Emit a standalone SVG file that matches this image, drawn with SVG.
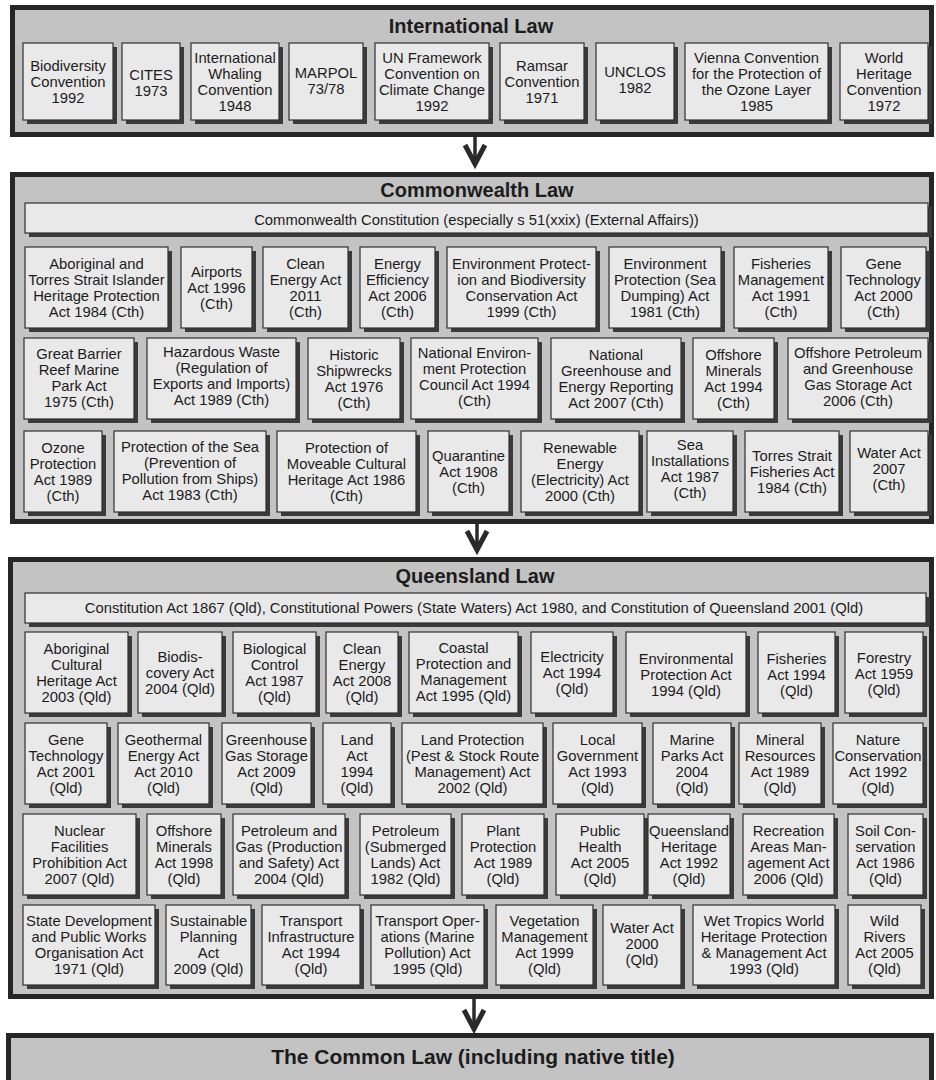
<svg xmlns="http://www.w3.org/2000/svg" width="936" height="1080" viewBox="0 0 936 1080">
<style>
.bg{fill:#ffffff}
.panel{fill:#c3c3c3;stroke:#262626;stroke-width:5}
.box{fill:#e9e9e9;stroke:#303030;stroke-width:1.2}
.sh{fill:#3a3a3a}
.t{font-family:"Liberation Sans",Arial,sans-serif;font-size:14.8px;fill:#1c1c1c;text-anchor:middle}
.h{font-family:"Liberation Sans",Arial,sans-serif;font-size:20px;font-weight:bold;fill:#1c1c1c;text-anchor:middle}
.ar{stroke:#2a2a2a;stroke-width:3.5;fill:none}
</style>
<defs>
<marker id="head" markerUnits="userSpaceOnUse" orient="auto" refX="0" refY="0" markerWidth="30" markerHeight="30" overflow="visible">
<path d="M-19,-10 L0,0 L-19,10" fill="none" stroke="#2a2a2a" stroke-width="5" stroke-linejoin="miter"/>
</marker>
</defs>
<rect class="bg" x="0" y="0" width="936" height="1080"/>

<!-- Panels -->
<g id="panel-international">
<rect class="panel" x="12.5" y="7.5" width="919" height="127"/>
<text class="h" x="471" y="33">International Law</text>
</g>
<g id="panel-commonwealth">
<rect class="panel" x="12.5" y="174.5" width="919" height="347"/>
<text class="h" x="477" y="197">Commonwealth Law</text>
</g>
<g id="panel-queensland">
<rect class="panel" x="10.5" y="559.5" width="921" height="437"/>
<text class="h" x="475" y="583">Queensland Law</text>
</g>
<g id="panel-commonlaw">
<rect class="panel" x="8.5" y="1035.5" width="923" height="60"/>
<text class="h" x="473" y="1064" style="font-size:21px">The Common Law (including native title)</text>
</g>

<!-- Connectors -->
<g id="connectors">
<line class="ar" x1="475" y1="137" x2="475" y2="164" marker-end="url(#head)"/>
<line class="ar" x1="477" y1="524" x2="477" y2="550" marker-end="url(#head)"/>
<line class="ar" x1="474" y1="999" x2="474" y2="1029" marker-end="url(#head)"/>
</g>

<!-- International -->
<g id="i1"><rect class="sh" x="27" y="47" width="90" height="77"/><rect class="box" x="23" y="43" width="90" height="77"/><text class="t" y="71"><tspan x="68">Biodiversity</tspan><tspan x="68" dy="16">Convention</tspan><tspan x="68" dy="16">1992</tspan></text></g>
<g id="i2"><rect class="sh" x="126" y="47" width="58" height="77"/><rect class="box" x="122" y="43" width="58" height="77"/><text class="t" y="80"><tspan x="151">CITES</tspan><tspan x="151" dy="16">1973</tspan></text></g>
<g id="i3"><rect class="sh" x="195" y="47" width="88" height="77"/><rect class="box" x="191" y="43" width="88" height="77"/><text class="t" y="63"><tspan x="235">International</tspan><tspan x="235" dy="16">Whaling</tspan><tspan x="235" dy="16">Convention</tspan><tspan x="235" dy="16">1948</tspan></text></g>
<g id="i4"><rect class="sh" x="293" y="47" width="74" height="77"/><rect class="box" x="289" y="43" width="74" height="77"/><text class="t" y="78"><tspan x="326">MARPOL</tspan><tspan x="326" dy="16">73/78</tspan></text></g>
<g id="i5"><rect class="sh" x="379" y="47" width="114" height="77"/><rect class="box" x="375" y="43" width="114" height="77"/><text class="t" y="63"><tspan x="432">UN Framework</tspan><tspan x="432" dy="16">Convention on</tspan><tspan x="432" dy="16">Climate Change</tspan><tspan x="432" dy="16">1992</tspan></text></g>
<g id="i6"><rect class="sh" x="504" y="47" width="84" height="77"/><rect class="box" x="500" y="43" width="84" height="77"/><text class="t" y="71"><tspan x="542">Ramsar</tspan><tspan x="542" dy="16">Convention</tspan><tspan x="542" dy="16">1971</tspan></text></g>
<g id="i7"><rect class="sh" x="600" y="47" width="78" height="77"/><rect class="box" x="596" y="43" width="78" height="77"/><text class="t" y="77"><tspan x="635">UNCLOS</tspan><tspan x="635" dy="16">1982</tspan></text></g>
<g id="i8"><rect class="sh" x="689" y="47" width="143" height="77"/><rect class="box" x="685" y="43" width="143" height="77"/><text class="t" y="63"><tspan x="756.5">Vienna Convention</tspan><tspan x="756.5" dy="16">for the Protection of</tspan><tspan x="756.5" dy="16">the Ozone Layer</tspan><tspan x="756.5" dy="16">1985</tspan></text></g>
<g id="i9"><rect class="sh" x="844" y="47" width="88" height="77"/><rect class="box" x="840" y="43" width="88" height="77"/><text class="t" y="63"><tspan x="884">World</tspan><tspan x="884" dy="16">Heritage</tspan><tspan x="884" dy="16">Convention</tspan><tspan x="884" dy="16">1972</tspan></text></g>

<!-- Commonwealth -->
<g id="c0"><rect class="sh" x="29" y="207" width="903" height="30"/><rect class="box" x="25" y="203" width="903" height="30"/><text class="t" x="476.5" y="225">Commonwealth Constitution (especially s 51(xxix) (External Affairs))</text></g>

<g id="c1"><rect class="sh" x="29" y="251" width="143" height="81"/><rect class="box" x="25" y="247" width="143" height="81"/><text class="t" y="269"><tspan x="96.5">Aboriginal and</tspan><tspan x="96.5" dy="16">Torres Strait Islander</tspan><tspan x="96.5" dy="16">Heritage Protection</tspan><tspan x="96.5" dy="16">Act 1984 (Cth)</tspan></text></g>
<g id="c2"><rect class="sh" x="185" y="251" width="71" height="81"/><rect class="box" x="181" y="247" width="71" height="81"/><text class="t" y="277"><tspan x="216.5">Airports</tspan><tspan x="216.5" dy="16">Act 1996</tspan><tspan x="216.5" dy="16">(Cth)</tspan></text></g>
<g id="c3"><rect class="sh" x="267" y="251" width="85" height="81"/><rect class="box" x="263" y="247" width="85" height="81"/><text class="t" y="269"><tspan x="305.5">Clean</tspan><tspan x="305.5" dy="16">Energy Act</tspan><tspan x="305.5" dy="16">2011</tspan><tspan x="305.5" dy="16">(Cth)</tspan></text></g>
<g id="c4"><rect class="sh" x="364" y="251" width="75" height="81"/><rect class="box" x="360" y="247" width="75" height="81"/><text class="t" y="269"><tspan x="397.5">Energy</tspan><tspan x="397.5" dy="16">Efficiency</tspan><tspan x="397.5" dy="16">Act 2006</tspan><tspan x="397.5" dy="16">(Cth)</tspan></text></g>
<g id="c5"><rect class="sh" x="451" y="251" width="149" height="81"/><rect class="box" x="447" y="247" width="149" height="81"/><text class="t" y="269"><tspan x="521.5">Environment Protect-</tspan><tspan x="521.5" dy="16">ion and Biodiversity</tspan><tspan x="521.5" dy="16">Conservation Act</tspan><tspan x="521.5" dy="16">1999 (Cth)</tspan></text></g>
<g id="c6"><rect class="sh" x="613" y="251" width="112" height="81"/><rect class="box" x="609" y="247" width="112" height="81"/><text class="t" y="269"><tspan x="665">Environment</tspan><tspan x="665" dy="16">Protection (Sea</tspan><tspan x="665" dy="16">Dumping) Act</tspan><tspan x="665" dy="16">1981 (Cth)</tspan></text></g>
<g id="c7"><rect class="sh" x="738" y="251" width="94" height="81"/><rect class="box" x="734" y="247" width="94" height="81"/><text class="t" y="269"><tspan x="781">Fisheries</tspan><tspan x="781" dy="16">Management</tspan><tspan x="781" dy="16">Act 1991</tspan><tspan x="781" dy="16">(Cth)</tspan></text></g>
<g id="c8"><rect class="sh" x="845" y="251" width="85" height="81"/><rect class="box" x="841" y="247" width="85" height="81"/><text class="t" y="269"><tspan x="883.5">Gene</tspan><tspan x="883.5" dy="16">Technology</tspan><tspan x="883.5" dy="16">Act 2000</tspan><tspan x="883.5" dy="16">(Cth)</tspan></text></g>

<g id="c9"><rect class="sh" x="28" y="342" width="110" height="81"/><rect class="box" x="24" y="338" width="110" height="81"/><text class="t" y="359"><tspan x="79">Great Barrier</tspan><tspan x="79" dy="16">Reef Marine</tspan><tspan x="79" dy="16">Park Act</tspan><tspan x="79" dy="16">1975 (Cth)</tspan></text></g>
<g id="c10"><rect class="sh" x="151" y="342" width="149" height="81"/><rect class="box" x="147" y="338" width="149" height="81"/><text class="t" y="357"><tspan x="221.5">Hazardous Waste</tspan><tspan x="221.5" dy="16">(Regulation of</tspan><tspan x="221.5" dy="16">Exports and Imports)</tspan><tspan x="221.5" dy="16">Act 1989 (Cth)</tspan></text></g>
<g id="c11"><rect class="sh" x="312" y="342" width="92" height="81"/><rect class="box" x="308" y="338" width="92" height="81"/><text class="t" y="360"><tspan x="354">Historic</tspan><tspan x="354" dy="16">Shipwrecks</tspan><tspan x="354" dy="16">Act 1976</tspan><tspan x="354" dy="16">(Cth)</tspan></text></g>
<g id="c12"><rect class="sh" x="415" y="342" width="127" height="81"/><rect class="box" x="411" y="338" width="127" height="81"/><text class="t" y="358"><tspan x="474.5">National Environ-</tspan><tspan x="474.5" dy="16">ment Protection</tspan><tspan x="474.5" dy="16">Council Act 1994</tspan><tspan x="474.5" dy="16">(Cth)</tspan></text></g>
<g id="c13"><rect class="sh" x="555" y="342" width="130" height="81"/><rect class="box" x="551" y="338" width="130" height="81"/><text class="t" y="360"><tspan x="616">National</tspan><tspan x="616" dy="16">Greenhouse and</tspan><tspan x="616" dy="16">Energy Reporting</tspan><tspan x="616" dy="16">Act 2007 (Cth)</tspan></text></g>
<g id="c14"><rect class="sh" x="697" y="342" width="81" height="81"/><rect class="box" x="693" y="338" width="81" height="81"/><text class="t" y="360"><tspan x="733.5">Offshore</tspan><tspan x="733.5" dy="16">Minerals</tspan><tspan x="733.5" dy="16">Act 1994</tspan><tspan x="733.5" dy="16">(Cth)</tspan></text></g>
<g id="c15"><rect class="sh" x="792" y="342" width="140" height="81"/><rect class="box" x="788" y="338" width="140" height="81"/><text class="t" y="358"><tspan x="858">Offshore Petroleum</tspan><tspan x="858" dy="16">and Greenhouse</tspan><tspan x="858" dy="16">Gas Storage Act</tspan><tspan x="858" dy="16">2006 (Cth)</tspan></text></g>

<g id="c16"><rect class="sh" x="28" y="435" width="78" height="81"/><rect class="box" x="24" y="431" width="78" height="81"/><text class="t" y="453"><tspan x="63">Ozone</tspan><tspan x="63" dy="16">Protection</tspan><tspan x="63" dy="16">Act 1989</tspan><tspan x="63" dy="16">(Cth)</tspan></text></g>
<g id="c17"><rect class="sh" x="118" y="435" width="152" height="81"/><rect class="box" x="114" y="431" width="152" height="81"/><text class="t" y="452"><tspan x="190">Protection of the Sea</tspan><tspan x="190" dy="16">(Prevention of</tspan><tspan x="190" dy="16">Pollution from Ships)</tspan><tspan x="190" dy="16">Act 1983 (Cth)</tspan></text></g>
<g id="c18"><rect class="sh" x="281" y="435" width="139" height="81"/><rect class="box" x="277" y="431" width="139" height="81"/><text class="t" y="453"><tspan x="346.5">Protection of</tspan><tspan x="346.5" dy="16">Moveable Cultural</tspan><tspan x="346.5" dy="16">Heritage Act 1986</tspan><tspan x="346.5" dy="16">(Cth)</tspan></text></g>
<g id="c19"><rect class="sh" x="432" y="435" width="81" height="81"/><rect class="box" x="428" y="431" width="81" height="81"/><text class="t" y="461"><tspan x="468.5">Quarantine</tspan><tspan x="468.5" dy="16">Act 1908</tspan><tspan x="468.5" dy="16">(Cth)</tspan></text></g>
<g id="c20"><rect class="sh" x="525" y="435" width="118" height="81"/><rect class="box" x="521" y="431" width="118" height="81"/><text class="t" y="453"><tspan x="580">Renewable</tspan><tspan x="580" dy="16">Energy</tspan><tspan x="580" dy="16">(Electricity) Act</tspan><tspan x="580" dy="16">2000 (Cth)</tspan></text></g>
<g id="c21"><rect class="sh" x="651" y="435" width="86" height="81"/><rect class="box" x="647" y="431" width="86" height="81"/><text class="t" y="450"><tspan x="690">Sea</tspan><tspan x="690" dy="16">Installations</tspan><tspan x="690" dy="16">Act 1987</tspan><tspan x="690" dy="16">(Cth)</tspan></text></g>
<g id="c22"><rect class="sh" x="749" y="435" width="94" height="81"/><rect class="box" x="745" y="431" width="94" height="81"/><text class="t" y="461"><tspan x="792">Torres Strait</tspan><tspan x="792" dy="16">Fisheries Act</tspan><tspan x="792" dy="16">1984 (Cth)</tspan></text></g>
<g id="c23"><rect class="sh" x="854" y="435" width="78" height="81"/><rect class="box" x="850" y="431" width="78" height="81"/><text class="t" y="458"><tspan x="889">Water Act</tspan><tspan x="889" dy="16">2007</tspan><tspan x="889" dy="16">(Cth)</tspan></text></g>

<!-- Queensland -->
<g id="q0"><rect class="sh" x="29" y="597" width="901" height="30"/><rect class="box" x="25" y="593" width="901" height="30"/><text class="t" x="474" y="613">Constitution Act 1867 (Qld), Constitutional Powers (State Waters) Act 1980, and Constitution of Queensland 2001 (Qld)</text></g>

<g id="q1"><rect class="sh" x="29" y="636" width="103" height="81"/><rect class="box" x="25" y="632" width="103" height="81"/><text class="t" y="654"><tspan x="76.5">Aboriginal</tspan><tspan x="76.5" dy="16">Cultural</tspan><tspan x="76.5" dy="16">Heritage Act</tspan><tspan x="76.5" dy="16">2003 (Qld)</tspan></text></g>
<g id="q2"><rect class="sh" x="142" y="636" width="84" height="81"/><rect class="box" x="138" y="632" width="84" height="81"/><text class="t" y="662"><tspan x="180">Biodis-</tspan><tspan x="180" dy="16">covery Act</tspan><tspan x="180" dy="16">2004 (Qld)</tspan></text></g>
<g id="q3"><rect class="sh" x="237" y="636" width="83" height="81"/><rect class="box" x="233" y="632" width="83" height="81"/><text class="t" y="654"><tspan x="274.5">Biological</tspan><tspan x="274.5" dy="16">Control</tspan><tspan x="274.5" dy="16">Act 1987</tspan><tspan x="274.5" dy="16">(Qld)</tspan></text></g>
<g id="q4"><rect class="sh" x="330" y="636" width="72" height="81"/><rect class="box" x="326" y="632" width="72" height="81"/><text class="t" y="654"><tspan x="362">Clean</tspan><tspan x="362" dy="16">Energy</tspan><tspan x="362" dy="16">Act 2008</tspan><tspan x="362" dy="16">(Qld)</tspan></text></g>
<g id="q5"><rect class="sh" x="413" y="636" width="109" height="81"/><rect class="box" x="409" y="632" width="109" height="81"/><text class="t" y="653"><tspan x="463.5">Coastal</tspan><tspan x="463.5" dy="16">Protection and</tspan><tspan x="463.5" dy="16">Management</tspan><tspan x="463.5" dy="16">Act 1995 (Qld)</tspan></text></g>
<g id="q6"><rect class="sh" x="535" y="636" width="82" height="81"/><rect class="box" x="531" y="632" width="82" height="81"/><text class="t" y="662"><tspan x="572">Electricity</tspan><tspan x="572" dy="16">Act 1994</tspan><tspan x="572" dy="16">(Qld)</tspan></text></g>
<g id="q7"><rect class="sh" x="630" y="636" width="120" height="81"/><rect class="box" x="626" y="632" width="120" height="81"/><text class="t" y="664"><tspan x="686">Environmental</tspan><tspan x="686" dy="16">Protection Act</tspan><tspan x="686" dy="16">1994 (Qld)</tspan></text></g>
<g id="q8"><rect class="sh" x="762" y="636" width="77" height="81"/><rect class="box" x="758" y="632" width="77" height="81"/><text class="t" y="664"><tspan x="796.5">Fisheries</tspan><tspan x="796.5" dy="16">Act 1994</tspan><tspan x="796.5" dy="16">(Qld)</tspan></text></g>
<g id="q9"><rect class="sh" x="849" y="636" width="78" height="81"/><rect class="box" x="845" y="632" width="78" height="81"/><text class="t" y="663"><tspan x="884">Forestry</tspan><tspan x="884" dy="16">Act 1959</tspan><tspan x="884" dy="16">(Qld)</tspan></text></g>

<g id="q10"><rect class="sh" x="29" y="727" width="82" height="81"/><rect class="box" x="25" y="723" width="82" height="81"/><text class="t" y="745"><tspan x="66">Gene</tspan><tspan x="66" dy="16">Technology</tspan><tspan x="66" dy="16">Act 2001</tspan><tspan x="66" dy="16">(Qld)</tspan></text></g>
<g id="q11"><rect class="sh" x="122" y="727" width="91" height="81"/><rect class="box" x="118" y="723" width="91" height="81"/><text class="t" y="745"><tspan x="163.5">Geothermal</tspan><tspan x="163.5" dy="16">Energy Act</tspan><tspan x="163.5" dy="16">Act 2010</tspan><tspan x="163.5" dy="16">(Qld)</tspan></text></g>
<g id="q12"><rect class="sh" x="226" y="727" width="89" height="81"/><rect class="box" x="222" y="723" width="89" height="81"/><text class="t" y="745"><tspan x="266.5">Greenhouse</tspan><tspan x="266.5" dy="16">Gas Storage</tspan><tspan x="266.5" dy="16">Act 2009</tspan><tspan x="266.5" dy="16">(Qld)</tspan></text></g>
<g id="q13"><rect class="sh" x="327" y="727" width="68" height="81"/><rect class="box" x="323" y="723" width="68" height="81"/><text class="t" y="745"><tspan x="357">Land</tspan><tspan x="357" dy="16">Act</tspan><tspan x="357" dy="16">1994</tspan><tspan x="357" dy="16">(Qld)</tspan></text></g>
<g id="q14"><rect class="sh" x="406" y="727" width="141" height="81"/><rect class="box" x="402" y="723" width="141" height="81"/><text class="t" y="745"><tspan x="472.5">Land Protection</tspan><tspan x="472.5" dy="16">(Pest &amp; Stock Route</tspan><tspan x="472.5" dy="16">Management) Act</tspan><tspan x="472.5" dy="16">2002 (Qld)</tspan></text></g>
<g id="q15"><rect class="sh" x="557" y="727" width="89" height="81"/><rect class="box" x="553" y="723" width="89" height="81"/><text class="t" y="745"><tspan x="597.5">Local</tspan><tspan x="597.5" dy="16">Government</tspan><tspan x="597.5" dy="16">Act 1993</tspan><tspan x="597.5" dy="16">(Qld)</tspan></text></g>
<g id="q16"><rect class="sh" x="657" y="727" width="78" height="81"/><rect class="box" x="653" y="723" width="78" height="81"/><text class="t" y="745"><tspan x="692">Marine</tspan><tspan x="692" dy="16">Parks Act</tspan><tspan x="692" dy="16">2004</tspan><tspan x="692" dy="16">(Qld)</tspan></text></g>
<g id="q17"><rect class="sh" x="743" y="727" width="82" height="81"/><rect class="box" x="739" y="723" width="82" height="81"/><text class="t" y="745"><tspan x="780">Mineral</tspan><tspan x="780" dy="16">Resources</tspan><tspan x="780" dy="16">Act 1989</tspan><tspan x="780" dy="16">(Qld)</tspan></text></g>
<g id="q18"><rect class="sh" x="837" y="727" width="90" height="81"/><rect class="box" x="833" y="723" width="90" height="81"/><text class="t" y="745"><tspan x="878">Nature</tspan><tspan x="878" dy="16">Conservation</tspan><tspan x="878" dy="16">Act 1992</tspan><tspan x="878" dy="16">(Qld)</tspan></text></g>

<g id="q19"><rect class="sh" x="27" y="818" width="113" height="81"/><rect class="box" x="23" y="814" width="113" height="81"/><text class="t" y="836"><tspan x="79.5">Nuclear</tspan><tspan x="79.5" dy="16">Facilities</tspan><tspan x="79.5" dy="16">Prohibition Act</tspan><tspan x="79.5" dy="16">2007 (Qld)</tspan></text></g>
<g id="q20"><rect class="sh" x="151" y="818" width="74" height="81"/><rect class="box" x="147" y="814" width="74" height="81"/><text class="t" y="836"><tspan x="184">Offshore</tspan><tspan x="184" dy="16">Minerals</tspan><tspan x="184" dy="16">Act 1998</tspan><tspan x="184" dy="16">(Qld)</tspan></text></g>
<g id="q21"><rect class="sh" x="237" y="818" width="112" height="81"/><rect class="box" x="233" y="814" width="112" height="81"/><text class="t" y="836"><tspan x="289">Petroleum and</tspan><tspan x="289" dy="16">Gas (Production</tspan><tspan x="289" dy="16">and Safety) Act</tspan><tspan x="289" dy="16">2004 (Qld)</tspan></text></g>
<g id="q22"><rect class="sh" x="364" y="818" width="91" height="81"/><rect class="box" x="360" y="814" width="91" height="81"/><text class="t" y="836"><tspan x="405.5">Petroleum</tspan><tspan x="405.5" dy="16">(Submerged</tspan><tspan x="405.5" dy="16">Lands) Act</tspan><tspan x="405.5" dy="16">1982 (Qld)</tspan></text></g>
<g id="q23"><rect class="sh" x="466" y="818" width="82" height="81"/><rect class="box" x="462" y="814" width="82" height="81"/><text class="t" y="836"><tspan x="503">Plant</tspan><tspan x="503" dy="16">Protection</tspan><tspan x="503" dy="16">Act 1989</tspan><tspan x="503" dy="16">(Qld)</tspan></text></g>
<g id="q24"><rect class="sh" x="560" y="818" width="88" height="81"/><rect class="box" x="556" y="814" width="88" height="81"/><text class="t" y="836"><tspan x="600">Public</tspan><tspan x="600" dy="16">Health</tspan><tspan x="600" dy="16">Act 2005</tspan><tspan x="600" dy="16">(Qld)</tspan></text></g>
<g id="q25"><rect class="sh" x="652" y="818" width="82" height="81"/><rect class="box" x="648" y="814" width="82" height="81"/><text class="t" y="836"><tspan x="689">Queensland</tspan><tspan x="689" dy="16">Heritage</tspan><tspan x="689" dy="16">Act 1992</tspan><tspan x="689" dy="16">(Qld)</tspan></text></g>
<g id="q26"><rect class="sh" x="747" y="818" width="91" height="81"/><rect class="box" x="743" y="814" width="91" height="81"/><text class="t" y="836"><tspan x="788.5">Recreation</tspan><tspan x="788.5" dy="16">Areas Man-</tspan><tspan x="788.5" dy="16">agement Act</tspan><tspan x="788.5" dy="16">2006 (Qld)</tspan></text></g>
<g id="q27"><rect class="sh" x="852" y="818" width="75" height="81"/><rect class="box" x="848" y="814" width="75" height="81"/><text class="t" y="836"><tspan x="885.5">Soil Con-</tspan><tspan x="885.5" dy="16">servation</tspan><tspan x="885.5" dy="16">Act 1986</tspan><tspan x="885.5" dy="16">(Qld)</tspan></text></g>

<g id="q28"><rect class="sh" x="27" y="909" width="132" height="80"/><rect class="box" x="23" y="905" width="132" height="80"/><text class="t" y="926"><tspan x="89">State Development</tspan><tspan x="89" dy="16">and Public Works</tspan><tspan x="89" dy="16">Organisation Act</tspan><tspan x="89" dy="16">1971 (Qld)</tspan></text></g>
<g id="q29"><rect class="sh" x="170" y="909" width="85" height="80"/><rect class="box" x="166" y="905" width="85" height="80"/><text class="t" y="926"><tspan x="208.5">Sustainable</tspan><tspan x="208.5" dy="16">Planning</tspan><tspan x="208.5" dy="16">Act</tspan><tspan x="208.5" dy="16">2009 (Qld)</tspan></text></g>
<g id="q30"><rect class="sh" x="266" y="909" width="98" height="80"/><rect class="box" x="262" y="905" width="98" height="80"/><text class="t" y="926"><tspan x="311">Transport</tspan><tspan x="311" dy="16">Infrastructure</tspan><tspan x="311" dy="16">Act 1994</tspan><tspan x="311" dy="16">(Qld)</tspan></text></g>
<g id="q31"><rect class="sh" x="375" y="909" width="113" height="80"/><rect class="box" x="371" y="905" width="113" height="80"/><text class="t" y="926"><tspan x="427.5">Transport Oper-</tspan><tspan x="427.5" dy="16">ations (Marine</tspan><tspan x="427.5" dy="16">Pollution) Act</tspan><tspan x="427.5" dy="16">1995 (Qld)</tspan></text></g>
<g id="q32"><rect class="sh" x="500" y="909" width="97" height="80"/><rect class="box" x="496" y="905" width="97" height="80"/><text class="t" y="926"><tspan x="544.5">Vegetation</tspan><tspan x="544.5" dy="16">Management</tspan><tspan x="544.5" dy="16">Act 1999</tspan><tspan x="544.5" dy="16">(Qld)</tspan></text></g>
<g id="q33"><rect class="sh" x="607" y="909" width="78" height="80"/><rect class="box" x="603" y="905" width="78" height="80"/><text class="t" y="933"><tspan x="642">Water Act</tspan><tspan x="642" dy="16">2000</tspan><tspan x="642" dy="16">(Qld)</tspan></text></g>
<g id="q34"><rect class="sh" x="697" y="909" width="142" height="80"/><rect class="box" x="693" y="905" width="142" height="80"/><text class="t" y="926"><tspan x="764">Wet Tropics World</tspan><tspan x="764" dy="16">Heritage Protection</tspan><tspan x="764" dy="16">&amp; Management Act</tspan><tspan x="764" dy="16">1993 (Qld)</tspan></text></g>
<g id="q35"><rect class="sh" x="852" y="909" width="73" height="80"/><rect class="box" x="848" y="905" width="73" height="80"/><text class="t" y="926"><tspan x="884.5">Wild</tspan><tspan x="884.5" dy="16">Rivers</tspan><tspan x="884.5" dy="16">Act 2005</tspan><tspan x="884.5" dy="16">(Qld)</tspan></text></g>
</svg>
